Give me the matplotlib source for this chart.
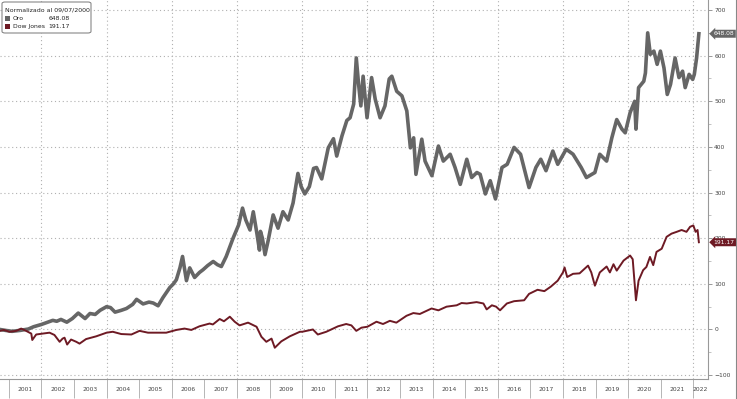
import matplotlib
matplotlib.use("Agg")
import matplotlib.pyplot as plt
from matplotlib.patches import FancyBboxPatch, Rectangle
from matplotlib.ticker import FixedLocator, NullFormatter
import numpy as np

# Oro, normalizado al 09/07/2000 (fecha decimal, %)
gold_t = [2000.73, 2000.9, 2001.1, 2001.35, 2001.6, 2001.76, 2002.0, 2002.2, 2002.35, 2002.47,
          2002.6, 2002.78, 2002.95, 2003.13, 2003.34, 2003.49, 2003.65, 2003.8, 2004.0, 2004.12,
          2004.26, 2004.45, 2004.61, 2004.8, 2004.92, 2005.12, 2005.3, 2005.43, 2005.58, 2005.73,
          2005.94, 2006.05, 2006.14, 2006.25, 2006.33, 2006.45, 2006.55, 2006.7, 2006.85, 2006.96,
          2007.1, 2007.27, 2007.4, 2007.52, 2007.67, 2007.88, 2008.05, 2008.17, 2008.27, 2008.4,
          2008.5, 2008.61, 2008.69, 2008.72, 2008.78, 2008.86, 2008.96, 2009.11, 2009.26, 2009.41,
          2009.57, 2009.72, 2009.87, 2009.97, 2010.08, 2010.22, 2010.35, 2010.44, 2010.6, 2010.8,
          2010.96, 2011.06, 2011.22, 2011.37, 2011.47, 2011.58, 2011.66, 2011.73, 2011.8, 2011.87,
          2011.99, 2012.13, 2012.24, 2012.39, 2012.54, 2012.67, 2012.75, 2012.9, 2013.06, 2013.21,
          2013.32, 2013.42, 2013.49, 2013.67, 2013.77, 2013.98, 2014.18, 2014.33, 2014.54, 2014.69,
          2014.85, 2015.05, 2015.2, 2015.36, 2015.46, 2015.62, 2015.77, 2015.93, 2016.13, 2016.29,
          2016.5, 2016.7, 2016.96, 2017.17, 2017.32, 2017.48, 2017.69, 2017.84, 2018.1, 2018.31,
          2018.56, 2018.72, 2018.98, 2019.13, 2019.34, 2019.5, 2019.65, 2019.81, 2019.91, 2020.06,
          2020.2, 2020.24, 2020.32, 2020.48, 2020.53, 2020.6, 2020.68, 2020.79, 2020.89, 2020.99,
          2021.1, 2021.2, 2021.3, 2021.44, 2021.56, 2021.67, 2021.75, 2021.87, 2021.98, 2022.03,
          2022.1, 2022.17]
gold_v = [0, -2, -4, -2, 1, 6, 11, 16, 20, 18,
          22, 16, 24, 36, 24, 35, 33, 42, 50, 48,
          38, 42, 46, 55, 66, 56, 60, 58, 52, 70,
          92, 100, 109, 135, 160, 107, 135, 114, 125, 131,
          140, 149, 142, 138, 160, 200, 229, 266, 240, 218,
          258, 211, 174, 215, 200, 164, 196, 251, 222, 258,
          240, 277, 342, 313, 297, 313, 353, 355, 330, 398,
          418, 380, 424, 458, 464, 494, 595, 538, 490, 555,
          464, 552, 505, 464, 490, 549, 555, 522, 512, 479,
          398, 420, 340, 417, 369, 337, 402, 369, 384, 355,
          318, 373, 333, 344, 340, 297, 326, 286, 355, 362,
          399, 384, 311, 355, 373, 348, 391, 362, 395, 384,
          355, 333, 344, 384, 369, 420, 460, 439, 431, 475,
          500, 439, 530, 544, 562, 650, 603, 610, 581, 610,
          573, 515, 537, 595, 552, 566, 530, 559, 548, 559,
          595, 648.08]

# Dow Jones, normalizado al 09/07/2000
dow_t = [2000.73, 2000.85, 2001.02, 2001.23, 2001.38, 2001.53, 2001.69, 2001.72, 2001.84, 2002.04,
         2002.25, 2002.4, 2002.56, 2002.65, 2002.71, 2002.79, 2002.91, 2003.07, 2003.17, 2003.37,
         2003.68, 2004.0, 2004.19, 2004.45, 2004.76, 2005.01, 2005.27, 2005.52, 2005.83, 2006.14,
         2006.39, 2006.6, 2006.85, 2007.16, 2007.26, 2007.47, 2007.6, 2007.78, 2007.93, 2008.08,
         2008.34, 2008.6, 2008.75, 2008.9, 2009.06, 2009.16, 2009.36, 2009.62, 2009.93, 2010.0,
         2010.33, 2010.48, 2010.74, 2011.1, 2011.35, 2011.51, 2011.66, 2011.82, 2012.0, 2012.28,
         2012.48, 2012.69, 2012.89, 2013.2, 2013.41, 2013.61, 2013.97, 2014.18, 2014.43, 2014.74,
         2014.89, 2015.05, 2015.35, 2015.56, 2015.66, 2015.82, 2015.95, 2016.07, 2016.28, 2016.5,
         2016.81, 2016.96, 2017.22, 2017.43, 2017.63, 2017.84, 2018.0, 2018.05, 2018.13, 2018.31,
         2018.51, 2018.77, 2018.87, 2018.98, 2019.13, 2019.34, 2019.44, 2019.55, 2019.65, 2019.86,
         2020.06, 2020.14, 2020.24, 2020.32, 2020.46, 2020.56, 2020.67, 2020.77, 2020.87, 2021.03,
         2021.18, 2021.33, 2021.49, 2021.64, 2021.79, 2021.9, 2022.0, 2022.07, 2022.13, 2022.17]
dow_v = [-3, -1, -5, -3, 2, -3, -9, -23, -11, -9,
         -7, -12, -27, -20, -18, -33, -22, -27, -31, -21,
         -15, -7, -5, -10, -11, -3, -7, -7, -7, -1,
         2, -1, 7, 13, 11, 23, 18, 28, 17, 9,
         15, 6, -16, -27, -20, -40, -26, -15, -5, -5,
         0, -11, -5, 7, 12, 9, -3, 4, 6, 17,
         12, 19, 15, 30, 36, 34, 46, 42, 50, 53,
         58, 57, 60, 57, 44, 53, 50, 42, 57, 62,
         64, 78, 87, 84, 94, 107, 125, 136, 115, 122,
         123, 140, 125, 96, 125, 138, 125, 143, 129, 151,
         162, 154, 64, 107, 130, 137, 159, 141, 170, 177,
         203, 210, 214, 218, 214, 225, 228, 214, 218, 191.17]

years = list(range(2001, 2023))
year_labels = [str(y) for y in years]
y_ticks = list(range(-100, 701, 100))

GOLD = "#666666"
DOW = "#6e1a24"
TXT = "#444444"

W, H = 737, 399
XMIN, XMAX = 2000.73, 2022.45
fig = plt.figure(figsize=(W / 100, H / 100), dpi=100)
fig.patch.set_facecolor("white")
ax = fig.add_axes([0, 1 - 379 / H, 708 / W, 379 / H])

ax.plot(gold_t, gold_v, color=GOLD, lw=2.6, solid_joinstyle="round", zorder=3)
ax.plot(dow_t, dow_v, color=DOW, lw=1.4, solid_joinstyle="round", zorder=4)

ax.set_xlim(XMIN, XMAX)
ax.set_ylim(-108.5, 722)

# dotted grid: every 100 on y, every second year on x
for v in y_ticks:
    ax.axhline(v, color="#b0b0b0", lw=0.8, ls=(0, (1, 2.5)), zorder=1)
for y in range(2002, 2023, 2):
    ax.axvline(y, color="#b0b0b0", lw=0.8, ls=(0, (1, 2.5)), zorder=1)

# x axis: separators at year starts, labels centred in each year span
ax.xaxis.set_major_locator(FixedLocator(years))
ax.xaxis.set_major_formatter(NullFormatter())
label_pos = [(y + min(y + 1, XMAX)) / 2 for y in years]
ax.xaxis.set_minor_locator(FixedLocator(label_pos))
ax.set_xticklabels(year_labels, minor=True)
ax.tick_params(axis="x", which="major", length=14, width=0.6, color="#aaaaaa", direction="out")
ax.tick_params(axis="x", which="minor", length=0, labelsize=4.3, labelcolor=TXT, pad=6)

# y axis on the right
ax.yaxis.tick_right()
ax.set_yticks(y_ticks)
ax.set_yticks(range(-100, 701, 50), minor=True)
ax.tick_params(axis="y", which="major", length=3, width=0.6, color="#888888",
               labelsize=4.3, labelcolor=TXT, pad=1.5)
ax.tick_params(axis="y", which="minor", length=2, width=0.5, color="#aaaaaa")

for s in ("top", "left"):
    ax.spines[s].set_visible(False)
ax.spines["right"].set_color("#999999")
ax.spines["bottom"].set_color("#999999")
ax.spines["right"].set_linewidth(0.8)
ax.spines["bottom"].set_linewidth(0.8)

# last-value tags on the right axis
tr = ax.get_yaxis_transform()
ax.text(1.008, gold_v[-1], f"{gold_v[-1]:.2f}", transform=tr, ha="left", va="center",
        fontsize=4.3, color="white", zorder=6,
        bbox=dict(boxstyle="larrow,pad=0.25", fc=GOLD, ec="none"))
ax.text(1.008, dow_v[-1], f"{dow_v[-1]:.2f}", transform=tr, ha="left", va="center",
        fontsize=4.3, color="white", zorder=6,
        bbox=dict(boxstyle="larrow,pad=0.25", fc=DOW, ec="none"))


# legend box, top left
def fx(px):
    return px / W


def fy(py):
    return 1 - py / H


fig.patches.append(FancyBboxPatch((fx(2), fy(33)), fx(89), 31 / H,
                                  boxstyle="round,pad=0,rounding_size=0.004",
                                  transform=fig.transFigure, fc="white", ec="#777777", lw=0.7,
                                  zorder=10))
fig.text(fx(5), fy(10), "Normalizado al 09/07/2000", fontsize=4.5, color="#222222",
         va="center", ha="left", zorder=11)
rows = [("Oro", gold_v[-1], GOLD), ("Dow Jones", dow_v[-1], DOW)]
for i, (name, val, col) in enumerate(rows):
    yc = 18.3 + 8 * i
    fig.patches.append(Rectangle((fx(4.5), fy(yc + 2.8)), fx(5.5), 5.5 / H,
                                 transform=fig.transFigure, fc=col, ec="none", zorder=11))
    fig.text(fx(13), fy(yc), name, fontsize=4.4, color="#222222", va="center", ha="left",
             zorder=11)
    fig.text(fx(70), fy(yc), f"{val:.2f}", fontsize=4.4, color="#222222", va="center",
             ha="right", zorder=11)

# thin frame line at the right edge of the picture
fig.add_artist(plt.Line2D([fx(735.5), fx(735.5)], [0, 1], transform=fig.transFigure,
                          color="#888888", lw=0.8))

fig.savefig("out.png", dpi=100)
